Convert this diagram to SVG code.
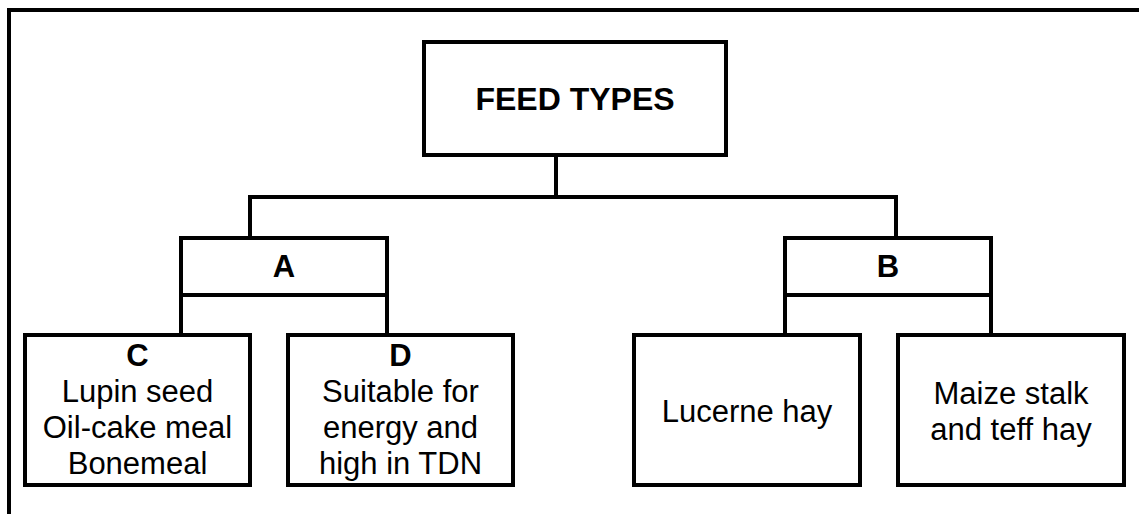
<svg xmlns="http://www.w3.org/2000/svg" width="1139" height="514" viewBox="0 0 1139 514">
  <style>
    .box { fill: #ffffff; stroke: #000000; stroke-width: 4; }
    .ln { fill: none; stroke: #000000; stroke-width: 4; stroke-linecap: square; stroke-linejoin: miter; }
    text { font-family: "Liberation Sans", Arial, sans-serif; font-size: 31px; fill: #000000; text-anchor: middle; }
    .b { font-weight: bold; }
  </style>
  <rect x="0" y="0" width="1139" height="514" fill="#ffffff"/>
  <g id="frame">
    <path class="ln" d="M9,514 V10 H1139"/>
  </g>
  <g id="connectors">
    <path class="ln" d="M556,157 V197"/>
    <path class="ln" d="M250,236 V197 H896 V236"/>
    <path class="ln" d="M181,238 V333"/>
    <path class="ln" d="M387,238 V333"/>
    <path class="ln" d="M785,238 V333"/>
    <path class="ln" d="M991,238 V333"/>
  </g>
  <g id="feed-types">
    <rect class="box" x="424" y="42" width="302" height="113"/>
    <text class="b" x="575" y="110" style="font-size:32px">FEED TYPES</text>
  </g>
  <g id="node-a">
    <rect class="box" x="181" y="238" width="206" height="57"/>
    <text class="b" x="284" y="277">A</text>
  </g>
  <g id="node-b">
    <rect class="box" x="785" y="238" width="206" height="57"/>
    <text class="b" x="888" y="277">B</text>
  </g>
  <g id="node-c">
    <rect class="box" x="25" y="335" width="225" height="150"/>
    <text class="b" x="137.5" y="366">C</text>
    <text x="137.5" y="402">Lupin seed</text>
    <text x="137.5" y="438">Oil-cake meal</text>
    <text x="137.5" y="474">Bonemeal</text>
  </g>
  <g id="node-d">
    <rect class="box" x="288" y="335" width="225" height="150"/>
    <text class="b" x="400.5" y="366">D</text>
    <text x="400.5" y="402">Suitable for</text>
    <text x="400.5" y="438">energy and</text>
    <text x="400.5" y="474">high in TDN</text>
  </g>
  <g id="node-lucerne">
    <rect class="box" x="634" y="335" width="226" height="150"/>
    <text x="747" y="422">Lucerne hay</text>
  </g>
  <g id="node-maize">
    <rect class="box" x="898" y="335" width="226" height="150"/>
    <text x="1011" y="404">Maize stalk</text>
    <text x="1011" y="440">and teff hay</text>
  </g>
</svg>
